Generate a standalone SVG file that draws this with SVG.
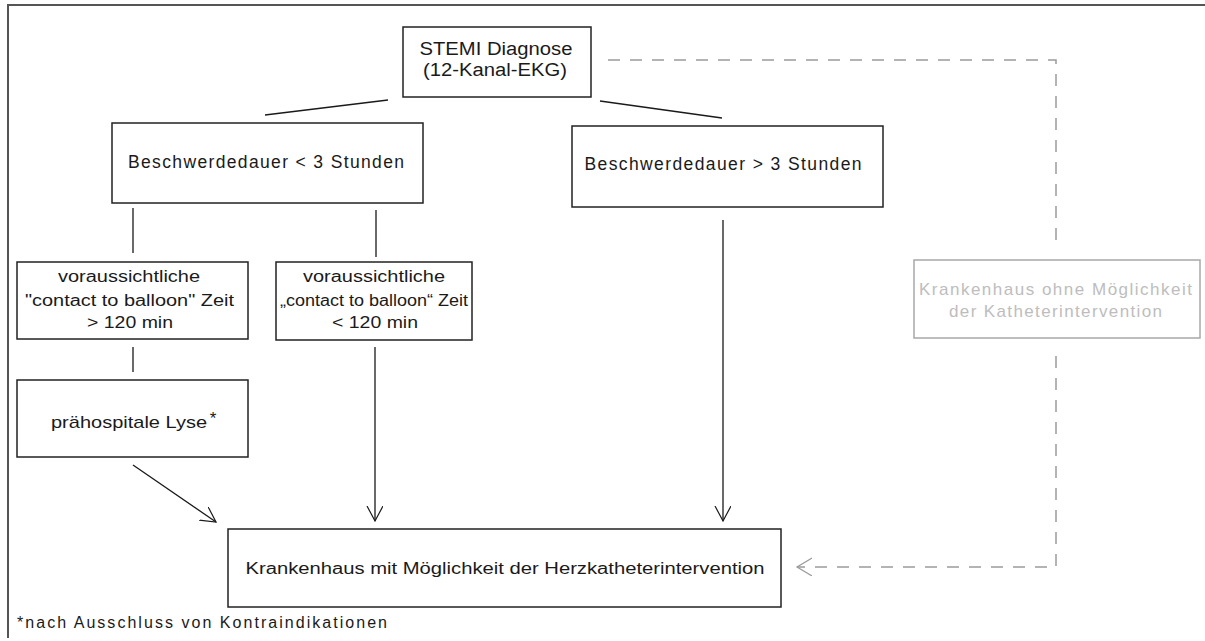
<svg xmlns="http://www.w3.org/2000/svg" width="1205" height="641" viewBox="0 0 1205 641">
<style>
.box{fill:#fff;stroke:#222;stroke-width:1.5}
.gbox{fill:#fff;stroke:#a8a8a8;stroke-width:1.5}
.t{font-family:"Liberation Sans",Arial,sans-serif;font-size:16px;fill:#1a1a1a;text-anchor:middle}
.g{font-family:"Liberation Sans",Arial,sans-serif;font-size:17px;fill:#bdbdbd;text-anchor:middle}
.ln{stroke:#1a1a1a;stroke-width:1.3;fill:none}
.dash{stroke:#9a9a9a;stroke-width:1.5;fill:none;stroke-dasharray:12 10}
</style>
<defs>
<marker id="ah" markerWidth="18" markerHeight="18" refX="15" refY="8" orient="auto" markerUnits="userSpaceOnUse">
<path d="M0,0 L15,8 L0,16" fill="none" stroke="#1a1a1a" stroke-width="1.2"/>
</marker>
<marker id="ahg" markerWidth="18" markerHeight="20" refX="15" refY="9" orient="auto" markerUnits="userSpaceOnUse">
<path d="M0,0 L15,9 L0,18" fill="none" stroke="#9a9a9a" stroke-width="1.2"/>
</marker>
</defs>
<rect width="1205" height="641" fill="#fff"/>
<path d="M8,638 V5 H1205" fill="none" stroke="#555" stroke-width="2"/>

<g id="connectors">
<line class="ln" x1="388" y1="100" x2="265" y2="115"/>
<line class="ln" x1="600" y1="101" x2="722" y2="118"/>
<line class="ln" x1="133" y1="208" x2="133" y2="253"/>
<line class="ln" x1="376" y1="210" x2="376" y2="257"/>
<line class="ln" x1="133" y1="347" x2="133" y2="372"/>
<line class="ln" x1="133" y1="465" x2="216" y2="522" marker-end="url(#ah)"/>
<line class="ln" x1="375" y1="347" x2="375" y2="521" marker-end="url(#ah)"/>
<line class="ln" x1="723" y1="220" x2="723" y2="521" marker-end="url(#ah)"/>
<path class="dash" d="M608,60 H1056 V243"/>
<path class="dash" d="M1056,356 V567 H797" marker-end="url(#ahg)"/>
</g>

<g id="stemi">
<rect class="box" x="403" y="27" width="188" height="70"/>
<text class="t" x="496" y="55" style="font-size:18px" textLength="153" lengthAdjust="spacingAndGlyphs">STEMI Diagnose</text>
<text class="t" x="495" y="76" style="font-size:18px" textLength="144" lengthAdjust="spacingAndGlyphs">(12-Kanal-EKG)</text>
</g>

<g id="lt3">
<rect class="box" x="112" y="123" width="311" height="80"/>
<text class="t" x="266" y="168" style="font-size:17.5px" textLength="276" lengthAdjust="spacing">Beschwerdedauer &lt; 3 Stunden</text>
</g>

<g id="gt3">
<rect class="box" x="572" y="126" width="311" height="81"/>
<text class="t" x="723" y="170" style="font-size:17.5px" textLength="277" lengthAdjust="spacing">Beschwerdedauer &gt; 3 Stunden</text>
</g>

<g id="cb_gt120">
<rect class="box" x="17" y="262" width="231" height="77"/>
<text class="t" x="129" y="282" textLength="142" lengthAdjust="spacingAndGlyphs">voraussichtliche</text>
<text class="t" x="129.5" y="306" textLength="209" lengthAdjust="spacingAndGlyphs">"contact to balloon" Zeit</text>
<text class="t" x="130" y="328" textLength="86" lengthAdjust="spacingAndGlyphs">&gt; 120 min</text>
</g>

<g id="cb_lt120">
<rect class="box" x="276" y="262" width="196" height="78"/>
<text class="t" x="374" y="282" textLength="142" lengthAdjust="spacingAndGlyphs">voraussichtliche</text>
<text class="t" x="374" y="306" textLength="188" lengthAdjust="spacingAndGlyphs">„contact to balloon“ Zeit</text>
<text class="t" x="375" y="328" textLength="86" lengthAdjust="spacingAndGlyphs">&lt; 120 min</text>
</g>

<g id="lyse">
<rect class="box" x="17" y="380" width="231" height="77"/>
<text class="t" x="129" y="428" style="font-size:17px" textLength="156" lengthAdjust="spacingAndGlyphs">prähospitale Lyse</text>
<text class="t" x="213" y="424" style="font-size:17px">*</text>
</g>

<g id="kh_mit">
<rect class="box" x="228" y="529" width="553" height="78"/>
<text class="t" x="505" y="574" textLength="519" lengthAdjust="spacingAndGlyphs">Krankenhaus mit Möglichkeit der Herzkatheterintervention</text>
</g>

<g id="kh_ohne">
<rect class="gbox" x="914" y="260" width="286" height="78"/>
<text class="g" x="1055.5" y="295" textLength="273" lengthAdjust="spacing">Krankenhaus ohne Möglichkeit</text>
<text class="g" x="1055.5" y="317" textLength="213" lengthAdjust="spacing">der Katheterintervention</text>
</g>

<g id="footnote">
<text x="17" y="628" font-family="Liberation Sans, Arial, sans-serif" font-size="16" fill="#1a1a1a" textLength="370" lengthAdjust="spacing">*nach Ausschluss von Kontraindikationen</text>
</g>
</svg>
